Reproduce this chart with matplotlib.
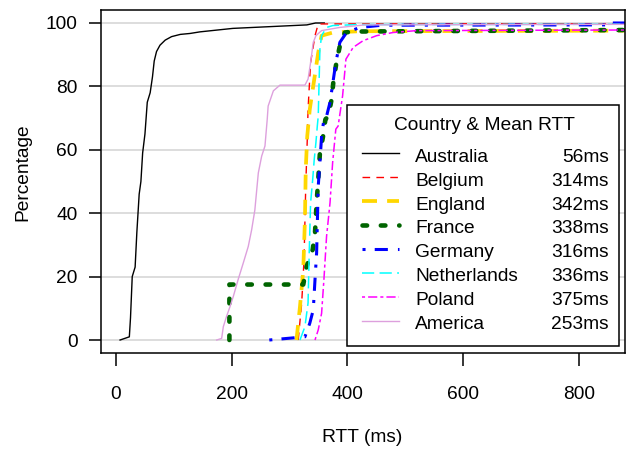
import matplotlib
matplotlib.use("Agg")
import matplotlib.pyplot as plt
from matplotlib.lines import Line2D
from matplotlib.patches import Rectangle

plt.rcParams['font.family'] = ['Liberation Sans', 'DejaVu Sans']

countries = ["Australia", "Belgium", "England", "France", "Germany",
             "Netherlands", "Poland", "America"]
mean_rtt = ["56ms", "314ms", "342ms", "338ms", "316ms", "336ms", "375ms", "253ms"]

aus_x = [7, 23, 25, 28, 33, 36, 40, 43, 46, 50, 54, 59, 63, 66, 70, 76, 85, 96, 111, 128, 145, 202, 260, 330, 345, 360]
aus_y = [0, 1, 7, 20, 23, 34, 46, 50, 59, 65, 75, 78, 83, 88, 91, 93, 94.6, 95.7, 96.4, 96.7, 97.2, 98.3, 98.8, 99.4, 100, 100]

bel_x = [315, 321, 325, 328, 330.6, 332, 336.4, 344, 349.6, 900]
bel_y = [0, 11.7, 25, 48.5, 63, 72.8, 87.5, 96, 99.7, 99.8]

eng_x = [312, 318, 323.7, 326.6, 328, 330.6, 335, 349.6, 355.4, 375, 420, 900]
eng_y = [0, 10.5, 22, 38, 53.8, 64.3, 72.8, 90.7, 96, 97, 97.4, 97.6]

fra_x = [196, 196, 323.7, 329.5, 340, 344, 346.8, 349.6, 352.5, 358, 362, 367, 372.7, 375.5, 381, 387, 395.7, 410, 900]
fra_y = [0, 17.5, 17.5, 23.2, 28.5, 33.8, 43.3, 50.6, 59, 64.3, 69.6, 70.6, 75.9, 81, 87.5, 92.8, 97, 97.3, 97.8]

ger_x = [265, 326.6, 335, 341, 344, 346.8, 349.6, 352.5, 355.4, 359.4, 364, 370, 380, 387, 398.6, 421.6, 460, 848, 849, 900]
ger_y = [0, 1, 5.3, 9.5, 19, 27.5, 48.5, 56, 64.3, 69.6, 70.6, 75, 87.5, 93.9, 97, 98.6, 99.3, 99.4, 100, 100]

net_x = [318, 326.6, 332, 334, 336.4, 340, 342.7, 345.6, 348, 349.6, 352.5, 355.4, 364, 375, 420, 900]
net_y = [0, 4.2, 11.7, 27.5, 43.3, 50.6, 57, 62.3, 67.5, 70.6, 91.8, 96, 98.6, 99.2, 99.5, 99.6]

pol_x = [344, 349.6, 355.4, 359.4, 364, 370, 374.5, 380, 384, 391.7, 397.5, 410, 427, 450.5, 479, 520, 900]
pol_y = [0, 3.2, 8.4, 19, 32.7, 43.3, 56, 66.5, 67.5, 77, 88.6, 92.3, 94.4, 96, 97, 97.6, 97.8]

ame_x = [174, 182.6, 185.5, 191, 197, 202.7, 211, 220, 228.6, 234.5, 240, 246, 251.8, 257.5, 261.4, 263, 272, 283.4, 326.6, 332, 336.4, 341, 345.6, 355.4, 387, 430, 900]
ame_y = [0, 0.5, 4.2, 7.4, 10.5, 13.7, 19, 24.3, 29.5, 34.8, 41, 52.7, 58, 61.2, 69.6, 73.8, 78.6, 80.4, 80.4, 82.3, 87.5, 93.9, 96, 97.6, 98.6, 99.4, 99.6]

xs = [aus_x, bel_x, eng_x, fra_x, ger_x, net_x, pol_x, ame_x]
ys = [aus_y, bel_y, eng_y, fra_y, ger_y, net_y, pol_y, ame_y]

styles = [
    dict(color="#000000", lw=1.0, ls="-"),
    dict(color="#FF0000", lw=1.0, ls=(0, (5.5, 4.5))),
    dict(color="#FFD700", lw=2.7, ls=(0, (4, 2.7))),
    dict(color="#006400", lw=3.3, ls=(0, (1, 3)), dash_capstyle="round"),
    dict(color="#0000FF", lw=2.2, ls=(0, (1, 3, 4.3, 3.3))),
    dict(color="#00FFFF", lw=1.1, ls=(0, (8, 3.5))),
    dict(color="#FF00FF", lw=1.1, ls=(0, (2, 2, 6, 2))),
    dict(color="#DDA0DD", lw=1.0, ls="-"),
]

FS = 13.8
W, H = 627, 455
fig = plt.figure(figsize=(W / 100, H / 100), dpi=100)
L, R, T, B = 101, 625, 10, 353
ax = fig.add_axes([L / W, 1 - B / H, (R - L) / W, (B - T) / H])

ax.set_xlim(-26, 880)
ax.set_ylim(-4.1, 104.1)

for yv in [0, 20, 40, 60, 80, 100]:
    ax.axhline(yv, color="#D3D3D3", lw=1.1, zorder=0)

for x, y, st in zip(xs, ys, styles):
    ax.plot(x, y, zorder=2, **st)

ax.set_xticks([0, 200, 400, 600, 800])
ax.set_yticks([0, 20, 40, 60, 80, 100])
ax.tick_params(axis="both", direction="out", length=9, width=1.1, labelsize=FS, colors="black")
ax.tick_params(axis="x", pad=15)
ax.tick_params(axis="y", pad=8)
for s in ax.spines.values():
    s.set_linewidth(1.1)

fig.text(362 / W, 1 - 438 / H, "RTT (ms)", ha="center", va="center", fontsize=FS)
fig.text(23 / W, 1 - 172.5 / H, "Percentage", ha="center", va="center", rotation=90, fontsize=FS)

# legend
def ax_pt(px, py):
    return ((px - L) / (R - L), (B - py) / (B - T))

x0, y0 = ax_pt(347, 346)
x1, y1 = ax_pt(619, 105)
ax.add_patch(Rectangle((x0, y0), x1 - x0, y1 - y0, transform=ax.transAxes,
                       facecolor="white", edgecolor="black", lw=1.1, zorder=5))
tx, ty = ax_pt(484.5, 125)
ax.text(tx, ty, "Country & Mean RTT", transform=ax.transAxes, ha="center", va="center",
        fontsize=FS, zorder=6)
row_y = [157.3, 181.2, 205, 228.8, 252.8, 276.7, 300.6, 324.5]
for name, val, st, ry in zip(countries, mean_rtt, styles, row_y):
    lx0, ly = ax_pt(362, ry - 4)
    lx1, _ = ax_pt(399, ry - 4)
    ax.add_line(Line2D([lx0, lx1], [ly, ly], transform=ax.transAxes, zorder=6, **st))
    nx, ny = ax_pt(415, ry)
    ax.text(nx, ny, name, transform=ax.transAxes, ha="left", va="center", fontsize=FS, zorder=6)
    vx, _ = ax_pt(609, ry)
    ax.text(vx, ny, val, transform=ax.transAxes, ha="right", va="center", fontsize=FS, zorder=6)

fig.savefig("out.png", dpi=100)
